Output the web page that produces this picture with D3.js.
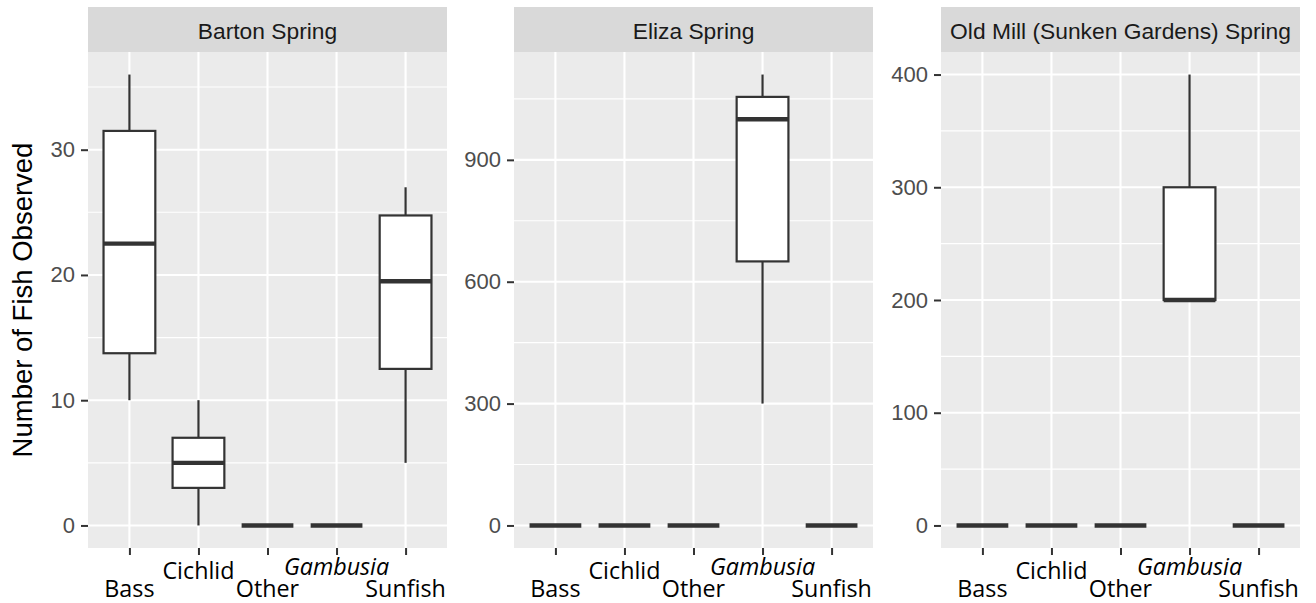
<!DOCTYPE html>
<html>
<head>
<meta charset="utf-8">
<script src="https://cdn.jsdelivr.net/npm/d3@7"></script>
<style>
  body { margin: 0; background: #fff; }
</style>
</head>
<body>
<div id="chart"></div>
<script>
// fish counts per spring, as box stats [min, q1, median, q3, max]
const categories = ["Bass", "Cichlid", "Other", "Gambusia", "Sunfish"];
const sites = ["Barton Spring", "Eliza Spring", "Old Mill (Sunken Gardens) Spring"];

const bartonStats = [
  [10, 13.75, 22.5, 31.5, 36],
  [0, 3, 5, 7, 10],
  [0, 0, 0, 0, 0],
  [0, 0, 0, 0, 0],
  [5, 12.5, 19.5, 24.75, 27]
];
const elizaStats = [
  [0, 0, 0, 0, 0],
  [0, 0, 0, 0, 0],
  [0, 0, 0, 0, 0],
  [300, 650, 1000, 1055, 1110],
  [0, 0, 0, 0, 0]
];
const oldMillStats = [
  [0, 0, 0, 0, 0],
  [0, 0, 0, 0, 0],
  [0, 0, 0, 0, 0],
  [200, 200, 200, 300, 400],
  [0, 0, 0, 0, 0]
];

const bartonTicks = [0, 10, 20, 30];
const elizaTicks = [0, 300, 600, 900];
const oldMillTicks = [0, 100, 200, 300, 400];

const yTitle = "Number of Fish Observed";

// layout
const W = 1316, H = 603;
const panelLeft = [88, 514, 941];
const panelW = 359;
const stripTop = 7, stripH = 45;
const panelTop = stripTop + stripH, panelBottom = 548;
const sansFont = "'Liberation Sans', Arial, sans-serif";
const labelFont = "'Open Sans', sans-serif";
const ink = "#333333";

const svg = d3.select("#chart").append("svg")
  .attr("width", W).attr("height", H);

svg.append("text")
  .attr("transform", `translate(32,${(panelTop + panelBottom) / 2}) rotate(-90)`)
  .attr("text-anchor", "middle")
  .style("font-family", sansFont)
  .style("font-size", "27.5px")
  .attr("fill", "#000")
  .text(yTitle);

function drawPanel(i, stats, ticks) {
  const x0 = panelLeft[i];
  const g = svg.append("g").attr("transform", `translate(${x0},0)`);

  const ymax = d3.max(stats, d => d[4]);
  const pad = ymax * 0.05;
  const y = d3.scaleLinear().domain([-pad, ymax + pad]).range([panelBottom, panelTop]);
  const x = d3.scalePoint().domain(categories).range([0, panelW]).padding(0.6);
  const step = x.step();

  // strip
  g.append("rect").attr("x", 0).attr("y", stripTop)
    .attr("width", panelW).attr("height", stripH).attr("fill", "#D9D9D9");
  g.append("text").attr("x", panelW / 2).attr("y", stripTop + 32)
    .attr("text-anchor", "middle")
    .style("font-family", sansFont).style("font-size", "22.8px")
    .attr("fill", "#1A1A1A")
    .text(sites[i]);

  // panel background
  g.append("rect").attr("x", 0).attr("y", panelTop)
    .attr("width", panelW).attr("height", panelBottom - panelTop).attr("fill", "#EBEBEB");

  // minor grid (midpoints between majors)
  const tstep = ticks[1] - ticks[0];
  const minor = d3.range(-tstep / 2, ymax + pad, tstep).filter(v => v > -pad && v < ymax + pad);
  g.selectAll(".minor").data(minor).enter().append("line")
    .attr("x1", 0).attr("x2", panelW)
    .attr("y1", d => y(d)).attr("y2", d => y(d))
    .attr("stroke", "#fff").attr("stroke-width", 1.1);

  g.selectAll(".hmajor").data(ticks).enter().append("line")
    .attr("x1", 0).attr("x2", panelW)
    .attr("y1", d => y(d)).attr("y2", d => y(d))
    .attr("stroke", "#fff").attr("stroke-width", 2.1);

  g.selectAll(".vmajor").data(categories).enter().append("line")
    .attr("x1", d => x(d)).attr("x2", d => x(d))
    .attr("y1", panelTop).attr("y2", panelBottom)
    .attr("stroke", "#fff").attr("stroke-width", 2.1);

  // boxes
  const bw = step * 0.75;
  const boxes = g.selectAll(".box").data(stats).enter().append("g");
  boxes.append("line")
    .attr("x1", (d, j) => x(categories[j])).attr("x2", (d, j) => x(categories[j]))
    .attr("y1", d => y(d[3])).attr("y2", d => y(d[4]))
    .attr("stroke", ink).attr("stroke-width", 2.2);
  boxes.append("line")
    .attr("x1", (d, j) => x(categories[j])).attr("x2", (d, j) => x(categories[j]))
    .attr("y1", d => y(d[0])).attr("y2", d => y(d[1]))
    .attr("stroke", ink).attr("stroke-width", 2.2);
  boxes.append("rect")
    .attr("x", (d, j) => x(categories[j]) - bw / 2).attr("width", bw)
    .attr("y", d => y(d[3])).attr("height", d => y(d[1]) - y(d[3]))
    .attr("fill", "#fff").attr("stroke", ink).attr("stroke-width", 2.2);
  boxes.append("line")
    .attr("x1", (d, j) => x(categories[j]) - bw / 2).attr("x2", (d, j) => x(categories[j]) + bw / 2)
    .attr("y1", d => y(d[2])).attr("y2", d => y(d[2]))
    .attr("stroke", ink).attr("stroke-width", 4.4);

  // y axis
  const ya = g.append("g").call(d3.axisLeft(y).tickValues(ticks).tickSize(7).tickPadding(6));
  ya.select(".domain").remove();
  ya.selectAll("line").attr("stroke", ink).attr("stroke-width", 2);
  ya.selectAll("text").attr("fill", "#4D4D4D")
    .style("font-family", sansFont).style("font-size", "22px");

  // x axis, dodged labels on two rows
  const xa = g.append("g").attr("transform", `translate(0,${panelBottom})`)
    .call(d3.axisBottom(x).tickSize(7).tickFormat(""));
  xa.select(".domain").remove();
  xa.selectAll("line").attr("stroke", ink).attr("stroke-width", 2);

  g.selectAll(".xlab").data(categories).enter().append("text")
    .attr("x", d => x(d))
    .attr("y", (d, j) => d === "Gambusia" ? 575 : (j % 2 === 0 ? 597 : 579))
    .attr("text-anchor", "middle")
    .style("font-family", labelFont)
    .style("font-style", d => d === "Gambusia" ? "italic" : "normal")
    .style("font-size", "23.3px")
    .attr("fill", "#000")
    .text(d => d);
}

drawPanel(0, bartonStats, bartonTicks);
drawPanel(1, elizaStats, elizaTicks);
drawPanel(2, oldMillStats, oldMillTicks);
</script>
</body>
</html>
